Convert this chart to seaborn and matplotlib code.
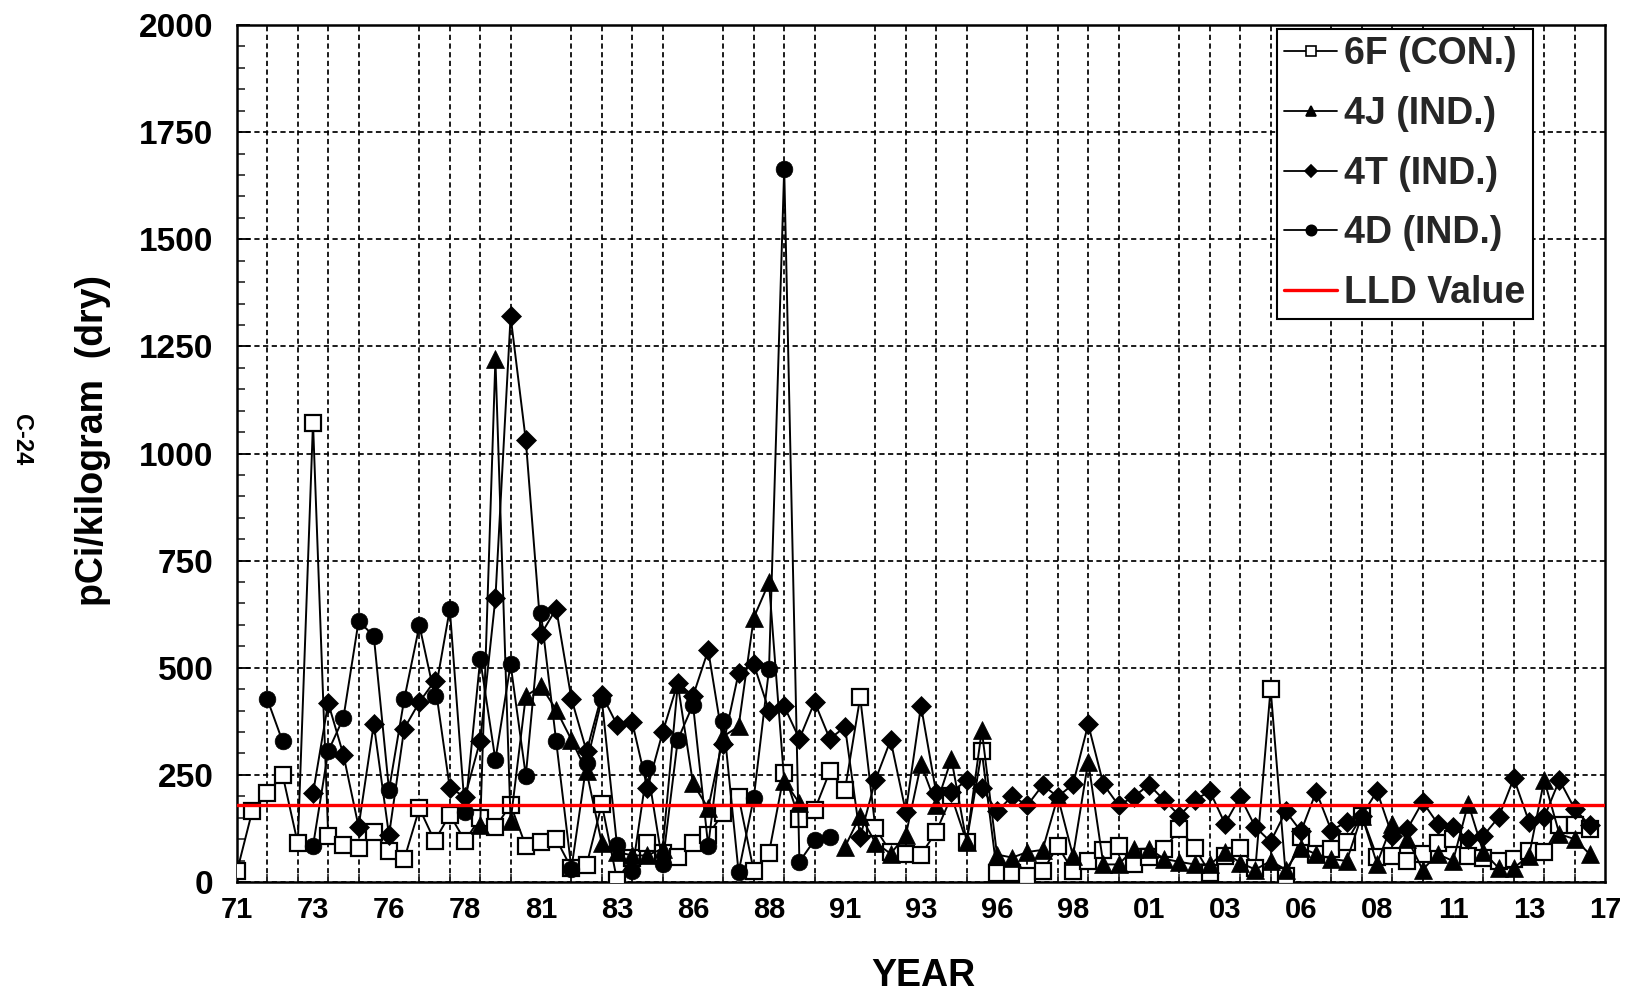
import numpy as np
import pandas as pd
import matplotlib
matplotlib.use("Agg")
import matplotlib.pyplot as plt
import seaborn as sns
from matplotlib.lines import Line2D
from matplotlib.ticker import MultipleLocator, FixedLocator

nan = np.nan

# semiannual sampling dates (1971.0 ... 2015.5)
years = np.arange(1971.0, 2016.0, 0.5)

s_6F = [25, 165, 207, 250, 90, 1072, 108, 86, 80, 116,
        72, 53, 172, 96, 157, 96, 150, 128, 180, 84,
        94, 100, 32, 40, 182, 5, 55, 92, 68, 58,
        92, 110, 162, 199, 25, 68, 254, 146, 168, 258,
        215, 431, 125, 70, 66, 64, 117, 200, 94, 305,
        22, 21, 13, 25, 84, 25, 49, 75, 84, 41,
        58, 76, 124, 80, 21, 61, 80, 33, 451, 15,
        104, 65, 76, 94, 155, 59, 61, 49, 65, 92,
        100, 61, 57, 49, 53, 73, 69, 132, 132, 124]

s_4J = [nan, nan, nan, nan, nan, nan, nan, nan, nan, nan,
        nan, nan, nan, nan, nan, nan, 133, 1220, 142, 434,
        457, 402, 332, 258, 90, 70, 62, 62, 78, 461,
        230, 172, 340, 363, 617, 699, 236, 184, nan, nan,
        82, 155, 92, 66, 109, 275, 180, 287, 94, 354,
        64, 57, 70, 75, 199, 61, 281, 41, 41, 77,
        78, 54, 47, 41, 41, 69, 45, 29, 49, 29,
        80, 65, 54, 49, 155, 43, 136, 100, 29, 65,
        49, 183, 69, 33, 33, 61, 238, 112, 100, 65]

s_4T = [nan, nan, nan, nan, nan, 207, 418, 297, 129, 369,
        109, 358, 420, 469, 219, 199, 330, 662, 1320, 1031,
        578, 638, 428, 305, 437, 367, 373, 219, 349, 465,
        434, 541, 322, 488, 508, 400, 410, 334, 420, 334,
        362, 105, 238, 331, 164, 411, 208, 210, 237, 219,
        165, 200, 179, 226, 199, 228, 368, 228, 179, 199,
        227, 191, 155, 191, 212, 136, 199, 128, 94, 165,
        118, 211, 120, 141, 155, 212, 108, 124, 187, 136,
        128, 100, 108, 151, 242, 141, 151, 238, 171, 132]

s_4D = [nan, nan, 426, 328, nan, 84, 305, 383, 609, 574,
        215, 426, 599, 435, 637, 164, 520, 285, 508, 248,
        627, 328, 31, 277, 426, 86, 26, 266, 43, 332,
        414, 84, 375, 23, 197, 496, 1665, 47, 98, 105,
        nan, nan, nan, nan, nan, nan, nan, nan, nan, nan,
        nan, nan, nan, nan, nan, nan, nan, nan, nan, nan,
        nan, nan, nan, nan, nan, nan, nan, nan, nan, nan,
        nan, nan, nan, nan, nan, nan, nan, nan, nan, nan,
        nan, nan, nan, nan, nan, nan, nan, nan, nan, nan]

lld_value = 180

series_names = ["6F (CON.)", "4J (IND.)", "4T (IND.)", "4D (IND.)"]
tick_labels = ["71", "73", "76", "78", "81", "83", "86", "88", "91", "93",
               "96", "98", "01", "03", "06", "08", "11", "13", "17"]

sns.set_theme(style="white")
plt.rcParams["font.family"] = ["Liberation Sans", "DejaVu Sans"]
plt.rcParams["font.weight"] = "bold"

W, H = 1626, 991
fig = plt.figure(figsize=(W / 100, H / 100), dpi=100)
fig.patch.set_facecolor("white")
ax = fig.add_axes([237 / W, 1 - 882 / H, (1605 - 237) / W, (882 - 25) / H])
ax.set_facecolor("white")

styles = {
    "6F (CON.)": dict(marker="s", markersize=11, markerfacecolor="white", markeredgewidth=1.6),
    "4J (IND.)": dict(marker="^", markersize=12.5, markerfacecolor="black", markeredgewidth=0.5),
    "4T (IND.)": dict(marker="D", markersize=10, markerfacecolor="black", markeredgewidth=0.5),
    "4D (IND.)": dict(marker="o", markersize=12, markerfacecolor="black", markeredgewidth=0.5),
}
data = {"6F (CON.)": s_6F, "4J (IND.)": s_4J, "4T (IND.)": s_4T, "4D (IND.)": s_4D}


def draw(name, z):
    v = np.asarray(data[name], dtype=float)
    idx = np.where(~np.isnan(v))[0]
    runs = np.split(idx, np.where(np.diff(idx) != 1)[0] + 1)
    for r in runs:
        if len(r) == 0:
            continue
        df = pd.DataFrame({"year": years[r], "value": v[r]})
        sns.lineplot(data=df, x="year", y="value", ax=ax, sort=False, estimator=None,
                     legend=False, color="black", linewidth=1.4,
                     markeredgecolor="black", zorder=z, **styles[name])


for i, n in enumerate(series_names):
    draw(n, 3 + i)

ax.axhline(lld_value, color="#ff0000", linewidth=2.4, zorder=8)

ax.set_xlim(1971, 2016)
ax.set_ylim(0, 2000)
tick_pos = [1971 + 2.5 * k for k in range(len(tick_labels))]
ax.xaxis.set_major_locator(FixedLocator(tick_pos))
ax.set_xticklabels(tick_labels)
ax.xaxis.set_minor_locator(MultipleLocator(1))
ax.yaxis.set_major_locator(MultipleLocator(250))
ax.yaxis.set_minor_locator(MultipleLocator(50))

ax.grid(False)
dash = (0, (3, 2))
ax.grid(which="major", axis="y", linestyle=dash, color="black", linewidth=1.25, zorder=1)
ax.grid(which="minor", axis="x", linestyle=dash, color="black", linewidth=1.25, zorder=1)
ax.set_axisbelow(True)

ax.tick_params(axis="y", which="major", direction="in", left=True, length=9, width=1.3,
               labelsize=24, pad=17, color="black", labelcolor="black")
ax.tick_params(axis="y", which="minor", direction="in", left=True, length=6, width=1.2)
ax.tick_params(axis="x", which="major", bottom=True, length=0, labelsize=21, pad=10,
               labelcolor="black")
ax.tick_params(axis="x", which="minor", direction="in", bottom=True, length=6, width=1.2)
for lab in ax.get_xticklabels() + ax.get_yticklabels():
    lab.set_fontweight("bold")

for sp in ax.spines.values():
    sp.set_visible(True)
    sp.set_color("black")
    sp.set_linewidth(1.8)

ax.set_xlabel("")
ax.set_ylabel("")

fig.text(93 / W, 1 - 441 / H, "pCi/kilogram  (dry)", rotation=90, fontsize=27,
         fontweight="bold", ha="center", va="center", color="black")
fig.text(923 / W, 1 - 986 / H, "YEAR", fontsize=27, fontweight="bold",
         ha="center", va="baseline", color="black")
fig.text(21 / W, 1 - 440 / H, "C-24", rotation=-90, fontsize=17, fontweight="bold",
         ha="center", va="center", color="black")

handles = []
for n in series_names:
    st = styles[n]
    handles.append(Line2D([0], [0], color="black", linewidth=1.3, marker=st["marker"],
                          markersize=st["markersize"] * 0.62, markerfacecolor=st["markerfacecolor"],
                          markeredgecolor="black", markeredgewidth=1.2, label=n))
handles.append(Line2D([0], [0], color="#ff0000", linewidth=2.4, label="LLD Value"))

leg = ax.legend(handles=handles, loc="upper right", bbox_to_anchor=(1533 / W, 1 - 29 / H),
                bbox_transform=fig.transFigure, borderaxespad=0, frameon=True, fancybox=False,
                edgecolor="black", framealpha=1, prop={"size": 27, "weight": "bold"},
                handlelength=1.4, handletextpad=0.2, labelspacing=0.63, borderpad=0.2)
leg.get_frame().set_linewidth(1.5)
leg.set_zorder(20)

fig.savefig("out.png", dpi=100, facecolor="white")
